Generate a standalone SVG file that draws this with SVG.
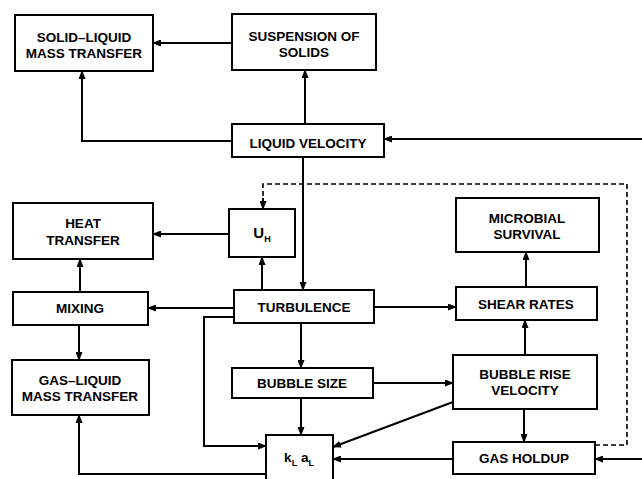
<svg xmlns="http://www.w3.org/2000/svg" width="642" height="479" viewBox="0 0 642 479">
<style>
.box{fill:#fff;stroke:#000;stroke-width:2}
.t{font-family:"Liberation Sans",Arial,sans-serif;font-weight:bold;font-size:13.5px;text-anchor:middle;fill:#000}
.sub{font-size:9px}
.c{fill:none;stroke:#000;stroke-width:2;marker-end:url(#ah)}
.d{fill:none;stroke:#000;stroke-width:1.6;stroke-dasharray:5,3}
</style>
<defs>
<marker id="ah" markerUnits="userSpaceOnUse" markerWidth="9" markerHeight="7" refX="8" refY="3.5" orient="auto">
<path d="M0,0 L9,3.5 L0,7 z" fill="#000"/>
</marker>
</defs>
<rect width="642" height="479" fill="#fff"/>
<g id="connectors">
<path class="c" d="M232,43 H153"/>
<path class="c" d="M232,141 H82 V71"/>
<path class="c" d="M305,124 V70"/>
<path class="c" d="M642,139 H384"/>
<path class="c" d="M303,157 V290"/>
<path class="d" d="M595,445 H627 V184 H263 V200"/>
<path class="c" d="M263,198 V209"/>
<path class="c" d="M229,234 H153"/>
<path class="c" d="M262,290 V257"/>
<path class="c" d="M80,292 V259"/>
<path class="c" d="M234,308 H148"/>
<path class="c" d="M79,325 V360"/>
<path class="c" d="M374,307 H456"/>
<path class="c" d="M526,287 V252"/>
<path class="c" d="M525,355 V320"/>
<path class="c" d="M234,317 H204 V446 H266"/>
<path class="c" d="M301,323 V368"/>
<path class="c" d="M301,398 V435"/>
<path class="c" d="M373,383 H453"/>
<path class="c" d="M453,402 L333,447"/>
<path class="c" d="M524,409 V442"/>
<path class="c" d="M453,459 H333"/>
<path class="c" d="M642,459 H595"/>
<path class="c" d="M266,474 H79 V415"/>
</g>
<g id="solid-liquid">
<rect class="box" x="15" y="15" width="138" height="56"/>
<text class="t" x="84" y="42">SOLID–LIQUID</text>
<text class="t" x="84" y="58">MASS TRANSFER</text>
</g>
<g id="suspension">
<rect class="box" x="232" y="14" width="144" height="56"/>
<text class="t" x="304" y="41">SUSPENSION OF</text>
<text class="t" x="304" y="57">SOLIDS</text>
</g>
<g id="liquid-velocity">
<rect class="box" x="232" y="124" width="152" height="33"/>
<text class="t" x="308" y="148">LIQUID VELOCITY</text>
</g>
<g id="heat-transfer">
<rect class="box" x="13" y="203" width="140" height="56"/>
<text class="t" x="83" y="228">HEAT</text>
<text class="t" x="83" y="245">TRANSFER</text>
</g>
<g id="uh">
<rect class="box" x="229" y="209" width="66" height="48"/>
<text class="t" x="262" y="238" style="font-size:15px">U<tspan class="sub" dy="4">H</tspan></text>
</g>
<g id="microbial-survival">
<rect class="box" x="456" y="198" width="143" height="54"/>
<text class="t" x="527" y="223">MICROBIAL</text>
<text class="t" x="527" y="239">SURVIVAL</text>
</g>
<g id="mixing">
<rect class="box" x="13" y="292" width="135" height="33"/>
<text class="t" x="80" y="313">MIXING</text>
</g>
<g id="turbulence">
<rect class="box" x="234" y="290" width="140" height="33"/>
<text class="t" x="304" y="312">TURBULENCE</text>
</g>
<g id="shear-rates">
<rect class="box" x="456" y="287" width="141" height="33"/>
<text class="t" x="526" y="309">SHEAR RATES</text>
</g>
<g id="gas-liquid">
<rect class="box" x="12" y="360" width="137" height="55"/>
<text class="t" x="80" y="385">GAS–LIQUID</text>
<text class="t" x="80" y="401">MASS TRANSFER</text>
</g>
<g id="bubble-size">
<rect class="box" x="232" y="368" width="141" height="30"/>
<text class="t" x="302" y="388">BUBBLE SIZE</text>
</g>
<g id="bubble-rise">
<rect class="box" x="453" y="355" width="144" height="54"/>
<text class="t" x="525" y="379">BUBBLE RISE</text>
<text class="t" x="525" y="395">VELOCITY</text>
</g>
<g id="klal">
<rect class="box" x="266" y="435" width="67" height="52"/>
<text class="t" x="299" y="462">k<tspan class="sub" dy="4">L</tspan><tspan dy="-4"> a</tspan><tspan class="sub" dy="4">L</tspan></text>
</g>
<g id="gas-holdup">
<rect class="box" x="453" y="442" width="142" height="32"/>
<text class="t" x="524" y="463">GAS HOLDUP</text>
</g>
</svg>
